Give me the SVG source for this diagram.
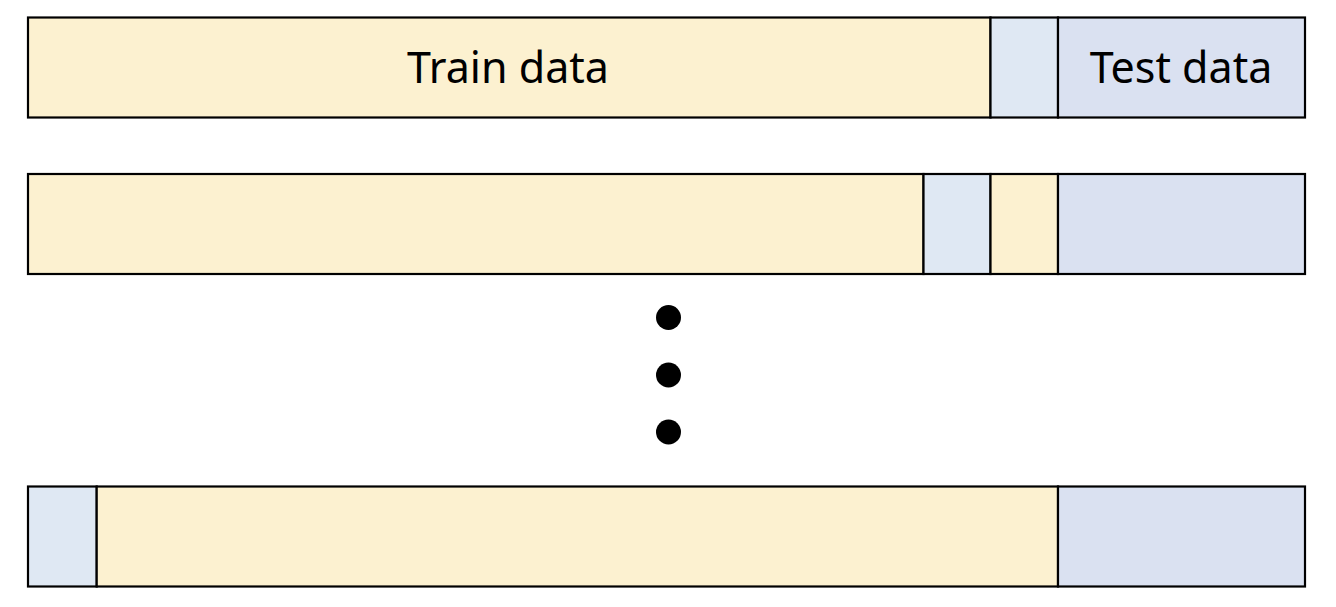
<svg xmlns="http://www.w3.org/2000/svg" width="1336" height="607" viewBox="0 0 1336 607">
<style>
.b{stroke:#000;stroke-width:2.2}
.tr{fill:#FCF1D0}
.va{fill:#DFE8F3}
.te{fill:#DAE1F1}
text{font-family:"Noto Sans","Open Sans",sans-serif;font-size:43px;fill:#000;text-anchor:middle}
</style>
<rect width="1336" height="607" fill="#fff"/>
<g id="row1">
<rect class="b tr" x="28" y="17.5" width="962.5" height="100"/>
<rect class="b va" x="990.5" y="17.5" width="67.5" height="100"/>
<rect class="b te" x="1058" y="17.5" width="247" height="100"/>
<text x="508" y="83">Train data</text>
<text x="1181" y="83">Test data</text>
</g>
<g id="row2">
<rect class="b tr" x="28" y="174" width="895.5" height="100"/>
<rect class="b va" x="923.5" y="174" width="67" height="100"/>
<rect class="b tr" x="990.5" y="174" width="67.5" height="100"/>
<rect class="b te" x="1058" y="174" width="247" height="100"/>
</g>
<g id="dots">
<circle cx="668.5" cy="317.5" r="12.5"/>
<circle cx="668.5" cy="375" r="12.5"/>
<circle cx="668.5" cy="432" r="12.5"/>
</g>
<g id="row3">
<rect class="b va" x="28" y="486.5" width="68.7" height="100"/>
<rect class="b tr" x="96.7" y="486.5" width="961.3" height="100"/>
<rect class="b te" x="1058" y="486.5" width="247" height="100"/>
</g>
<g id="connectors"/>
</svg>
